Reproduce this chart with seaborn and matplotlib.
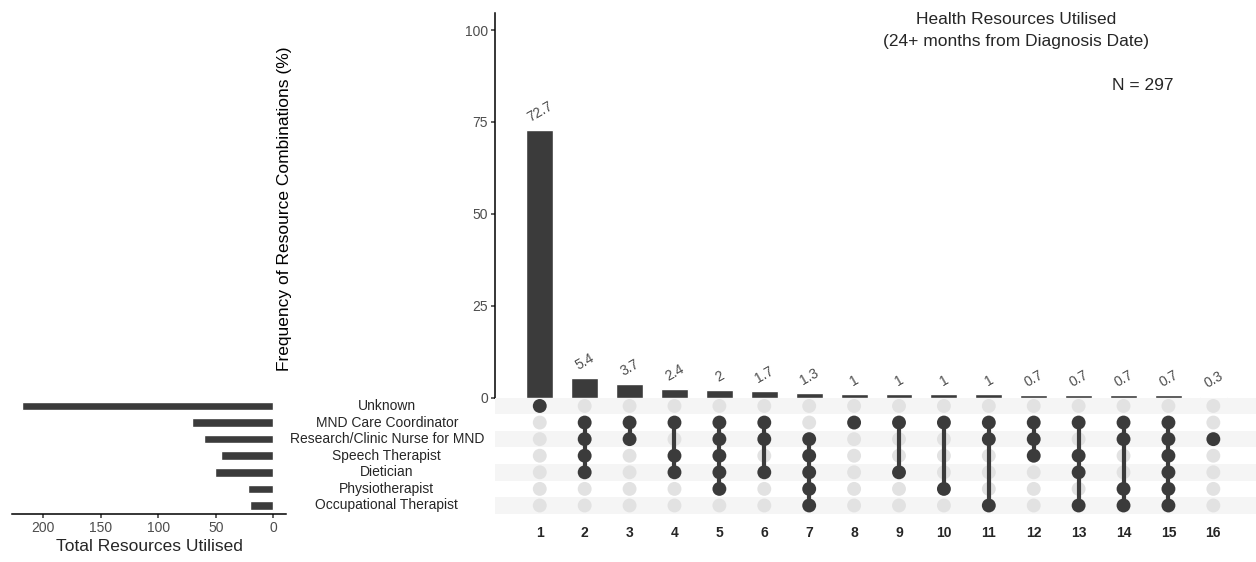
import numpy as np
import pandas as pd
import seaborn as sns
import matplotlib.pyplot as plt

sets = ["Unknown", "MND Care Coordinator", "Research/Clinic Nurse for MND",
        "Speech Therapist", "Dietician", "Physiotherapist", "Occupational Therapist"]
set_totals = [218, 71, 60, 45, 51, 22, 20]

combo_pct = [72.7, 5.4, 3.7, 2.4, 2, 1.7, 1.3, 1, 1, 1, 1, 0.7, 0.7, 0.7, 0.7, 0.3]
combo_labels = ["72.7", "5.4", "3.7", "2.4", "2", "1.7", "1.3", "1", "1", "1", "1",
                "0.7", "0.7", "0.7", "0.7", "0.3"]
# row indices (0 = Unknown ... 6 = Occupational Therapist) used in each combination
combo_members = [
    [0],
    [1, 2, 3, 4],
    [1, 2],
    [1, 3, 4],
    [1, 2, 3, 4, 5],
    [1, 2, 4],
    [2, 3, 4, 5, 6],
    [1],
    [1, 4],
    [1, 5],
    [1, 2, 6],
    [1, 2, 3],
    [1, 3, 4, 6],
    [1, 2, 5, 6],
    [1, 2, 3, 4, 5, 6],
    [2],
]

dark = "#3b3b3b"
grey_txt = "#4d4d4d"

sns.set_theme(style="white")
plt.rcParams["font.family"] = ["Liberation Sans", "DejaVu Sans"]

fig = plt.figure(figsize=(12.56, 5.62), dpi=100)
ax_top = fig.add_axes([0.394, 0.2923, 0.606, 0.685])
ax_mat = fig.add_axes([0.394, 0.0858, 0.606, 0.2066])
ax_left = fig.add_axes([0.0096, 0.0858, 0.218, 0.2066])

n_combo = len(combo_pct)
xpos = list(range(n_combo))

# --- intersection bars ---
top_df = pd.DataFrame({"combo": [str(i + 1) for i in xpos], "pct": combo_pct})
sns.barplot(data=top_df, x="combo", y="pct", color=dark, saturation=1,
            width=0.6, ax=ax_top)
for i, (v, lab) in enumerate(zip(combo_pct, combo_labels)):
    ax_top.annotate(lab, (i, v), xytext=(0, 4), textcoords="offset points",
                    ha="center", va="bottom", rotation=30, fontsize=10,
                    color=grey_txt)
ax_top.set_xlim(-1.0, n_combo - 0.05)
ax_top.set_ylim(0, 104.7)
ax_top.set_yticks([0, 25, 50, 75, 100])
ax_top.tick_params(axis="y", labelsize=10, colors=grey_txt, length=3, left=True, pad=2)
ax_top.tick_params(axis="x", bottom=False, labelbottom=False)
ax_top.set_xlabel("")
ax_top.set_ylabel("Frequency of Resource Combinations (%)", fontsize=12.5,
                  color="black")
ax_top.yaxis.set_label_coords(-0.266, 0.49)
for s in ["top", "right", "bottom"]:
    ax_top.spines[s].set_visible(False)
ax_top.spines["left"].set_color("black")
ax_top.spines["left"].set_linewidth(1.1)
for t in ax_top.get_yticklabels():
    t.set_color(grey_txt)

fig.text(0.809, 0.946, "Health Resources Utilised\n(24+ months from Diagnosis Date)",
         ha="center", va="center", fontsize=12.5, linespacing=1.55)
fig.text(0.91, 0.847, "N = 297", ha="center", va="center", fontsize=12.5)

# --- matrix ---
n_sets = len(sets)
for r in range(0, n_sets, 2):
    ax_mat.axhspan(r - 0.5, r + 0.5, color="#f5f5f5", zorder=0, lw=0)
grid = pd.DataFrame([(c, r) for c in xpos for r in range(n_sets)], columns=["c", "r"])
grid["on"] = [r in combo_members[c] for c, r in zip(grid["c"], grid["r"])]
sns.scatterplot(data=grid[~grid["on"]], x="c", y="r", color="#e2e2e2", s=100,
                edgecolor="none", ax=ax_mat, zorder=2)
for c, members in enumerate(combo_members):
    if len(members) > 1:
        ax_mat.plot([c, c], [min(members), max(members)], color=dark, lw=3,
                    zorder=3, solid_capstyle="butt")
sns.scatterplot(data=grid[grid["on"]], x="c", y="r", color=dark, s=100,
                edgecolor="none", ax=ax_mat, zorder=4)
ax_mat.set_xlim(-1.0, n_combo - 0.05)
ax_mat.set_ylim(n_sets - 0.5, -0.5)
ax_mat.set_xticks(xpos)
ax_mat.set_xticklabels([str(i + 1) for i in xpos], fontweight="bold", fontsize=10)
ax_mat.set_yticks([])
ax_mat.tick_params(axis="x", length=0, pad=9)
ax_mat.set_xlabel("")
ax_mat.set_ylabel("")
for s in ax_mat.spines.values():
    s.set_visible(False)

# --- set size bars ---
left_df = pd.DataFrame({"set": sets, "total": set_totals})
sns.barplot(data=left_df, x="total", y="set", orient="h", color=dark,
            saturation=1, width=0.52, ax=ax_left)
ax_left.set_xlim(227, -11)
ax_left.set_ylim(n_sets - 0.5, -0.5)
ax_left.set_xticks([200, 150, 100, 50, 0])
ax_left.tick_params(axis="x", labelsize=10, colors=grey_txt, length=3, bottom=True, pad=2)
ax_left.set_yticks([])
ax_left.set_ylabel("")
ax_left.set_xlabel("Total Resources Utilised", fontsize=12.5, labelpad=3)
for s in ["top", "right", "left"]:
    ax_left.spines[s].set_visible(False)
ax_left.spines["bottom"].set_color("black")
ax_left.spines["bottom"].set_linewidth(1.1)

# set names between the two panels
for r, name in enumerate(sets):
    y_disp = ax_mat.transData.transform((0, r))[1]
    y_fig = fig.transFigure.inverted().transform((0, y_disp))[1]
    fig.text(0.308, y_fig, name, ha="center", va="center", fontsize=10)

fig.savefig("out.png", dpi=100)
